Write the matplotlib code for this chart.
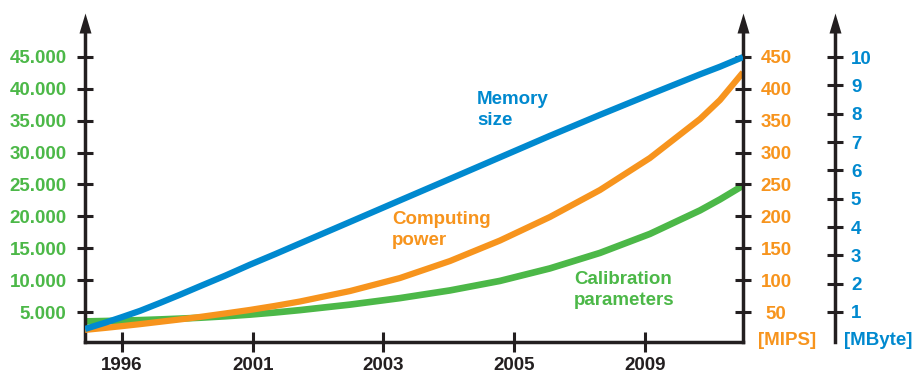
import numpy as np
import matplotlib
matplotlib.use('Agg')
import matplotlib.pyplot as plt

plt.rcParams['font.family'] = ['Liberation Sans', 'DejaVu Sans']
plt.rcParams['font.weight'] = 'bold'

# Data (x = position along the axis, one unit per labelled year)
year_labels = ['1996', '2001', '2003', '2005', '2009']
x_pos = [-0.283, -0.130, 0.0, 0.138, 0.291, 0.444, 0.597, 0.788, 0.979,
         1.170, 1.361, 1.744, 2.126, 2.509, 2.891, 3.273, 3.656, 4.038,
         4.421, 4.574, 4.750]
calib_params = [3528, 3591, 3653, 3732, 3842, 3967, 4108, 4328, 4594,
                4924, 5300, 6162, 7181, 8389, 9878, 11838, 14269, 17248,
                20933, 22658, 24821]
computing_mips = [22.0, 25.1, 27.9, 31.0, 34.7, 38.4, 42.3, 47.7, 53.3,
                  59.6, 66.5, 82.9, 103.3, 130.0, 162.1, 199.0, 241.3,
                  291.5, 352.6, 382.4, 425.7]
memory_mbyte = [0.40, 0.62, 0.82, 1.04, 1.32, 1.61, 1.91, 2.28, 2.67, 3.04,
                3.42, 4.18, 4.94, 5.70, 6.46, 7.22, 7.96, 8.68, 9.39, 9.66,
                10.0]

green_ticks = [5000, 10000, 15000, 20000, 25000, 30000, 35000, 40000, 45000]
green_labels = ['5.000', '10.000', '15.000', '20.000', '25.000', '30.000',
                '35.000', '40.000', '45.000']
mips_ticks = [50, 100, 150, 200, 250, 300, 350, 400, 450]
mbyte_ticks = [1, 2, 3, 4, 5, 6, 7, 8, 9, 10]

green = '#4cb848'
orange = '#f7941d'
blue = '#0089cf'
dark = '#231f20'
fs = 13.5

W, H = 916, 375
fig = plt.figure(figsize=(W / 100, H / 100), dpi=100)
ax = fig.add_axes([85 / W, (H - 342) / H, (743 - 85) / W, (342 - 33) / H])
ax_o = ax.twinx()
ax_b = ax.twinx()

ax.set_xlim(-0.283, 4.750)
ax.set_ylim(300, 48750)
ax_o.set_ylim(3.0, 487.5)
ax_b.set_ylim(-0.06, 10.85)

ax.plot(x_pos, calib_params, color=green, lw=4.8, solid_capstyle='butt',
        solid_joinstyle='round')
ax_o.plot(x_pos, computing_mips, color=orange, lw=4.5, solid_capstyle='butt',
          solid_joinstyle='round')
ax_b.plot(x_pos, memory_mbyte, color=blue, lw=4.5, solid_capstyle='butt',
          solid_joinstyle='round')

# spines
for a in (ax, ax_o, ax_b):
    for s in a.spines.values():
        s.set_visible(False)
        s.set_linewidth(2.5)
        s.set_color(dark)
ax.spines['left'].set_visible(True)
ax.spines['bottom'].set_visible(True)
ax_o.spines['right'].set_visible(True)
ax_b.spines['right'].set_visible(True)
ax_b.spines['right'].set_position(('axes', 1.1398))

# ticks
ax.set_xticks(range(len(year_labels)))
ax.set_xticklabels(year_labels)
ax.tick_params(axis='x', direction='inout', length=13.7, width=2.2,
               color=dark, labelcolor=dark, labelsize=fs, pad=4.2)

ax.set_yticks(green_ticks)
ax.set_yticklabels(green_labels)
ax.tick_params(axis='y', direction='inout', length=12, width=2.2,
               color=dark, labelcolor=green, labelsize=fs, pad=7.2)

ax_o.set_yticks(mips_ticks)
ax_o.tick_params(axis='y', direction='inout', length=12, width=2.2,
                 color=dark, labelcolor=orange, labelsize=fs, pad=17.8)
plt.setp(ax_o.get_yticklabels(), ha='center')

ax_b.set_yticks(mbyte_ticks)
ax_b.tick_params(axis='y', direction='inout', length=12, width=2.2,
                 color=dark, labelcolor=blue, labelsize=fs, pad=5.5)

# arrow heads on the vertical axes
head = [(-3, 0), (3, 0), (0, 10)]
for xa in (0.0, 1.0, 1.1398):
    ax.plot(xa, 1.0, marker=head, ms=28.8, color=dark, mew=0,
            transform=ax.transAxes, clip_on=False)

# units
ax.text(1.067, 0.006, '[MIPS]', color=orange, fontsize=fs, ha='center',
        va='center', transform=ax.transAxes)
ax.text(1.205, 0.006, '[MByte]', color=blue, fontsize=fs, ha='center',
        va='center', transform=ax.transAxes)

# series labels
ax.text(2.715, 36700, 'Memory\nsize', color=blue, fontsize=fs,
        ha='left', va='center', linespacing=1.3)
ax.text(2.065, 17875, 'Computing\npower', color=orange, fontsize=fs,
        ha='left', va='center', linespacing=1.3)
ax.text(3.457, 8467, 'Calibration\nparameters', color=green, fontsize=fs,
        ha='left', va='center', linespacing=1.3)

fig.savefig('out.png', dpi=100)
